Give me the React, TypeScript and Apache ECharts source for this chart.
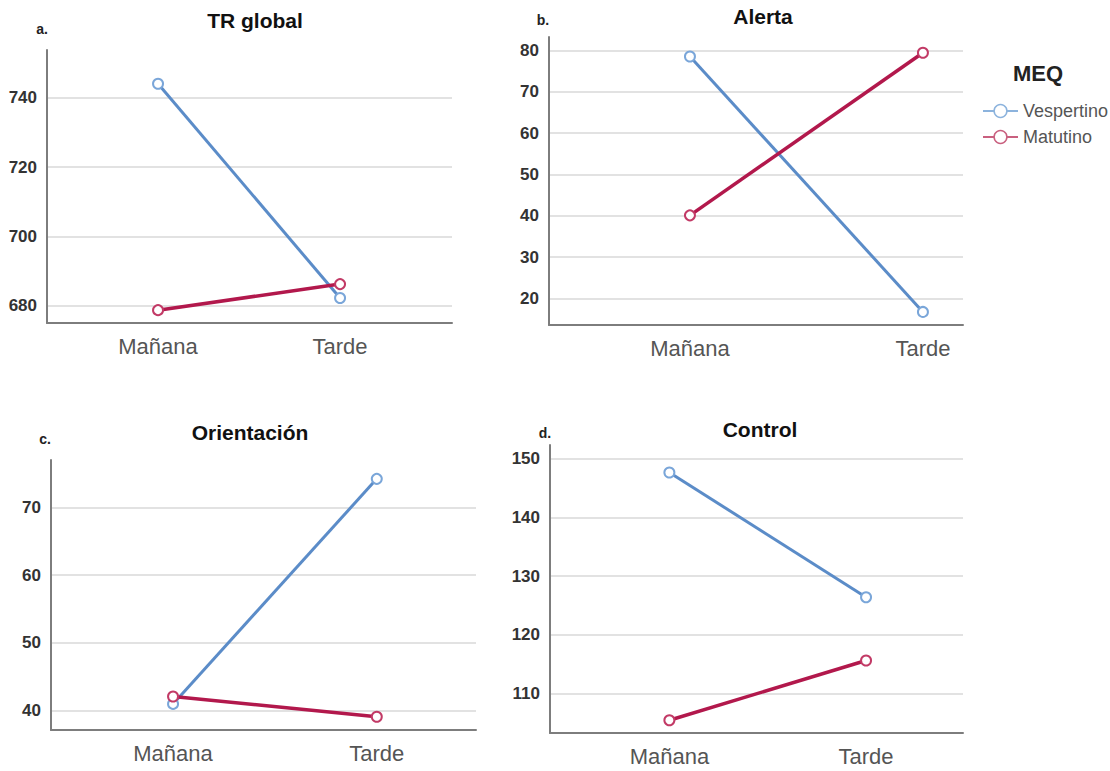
import React, { useEffect, useRef } from "react";
import * as echarts from "echarts";

const categories = ["Mañana", "Tarde"];
const seriesNames = ["Vespertino", "Matutino"];

const trVesp = [744.0, 682.3];
const trMat = [678.8, 686.3];
const alertaVesp = [78.6, 16.7];
const alertaMat = [40.1, 79.5];
const orientVesp = [41.0, 74.2];
const orientMat = [42.1, 39.1];
const controlVesp = [147.7, 126.4];
const controlMat = [105.4, 115.6];

const panelTitles = ["TR global", "Alerta", "Orientación", "Control"];
const panelLetters = ["a.", "b.", "c.", "d."];

const FONT = "'Liberation Sans', Arial, sans-serif";
const BLUE = "#5b8cc8";
const RED = "#b2184c";

const panels = [
  { vesp: trVesp, mat: trMat, grid: { left: 47, top: 50, width: 405, height: 273 }, x: [-0.61, 1.615], y: [675.1, 753.7], title: [255, 20], letter: [42, 29] },
  { vesp: alertaVesp, mat: alertaMat, grid: { left: 549, top: 37, width: 414, height: 288 }, x: [-0.605, 1.172], y: [13.53, 83.32], title: [763, 16], letter: [543, 20] },
  { vesp: orientVesp, mat: orientMat, grid: { left: 51, top: 460, width: 425, height: 270 }, x: [-0.599, 1.487], y: [37.15, 76.98], title: [250, 432], letter: [45, 439] },
  { vesp: controlVesp, mat: controlMat, grid: { left: 550, top: 445, width: 413, height: 288 }, x: [-0.607, 1.493], y: [103.22, 152.39], title: [760, 429], letter: [545, 433] },
];

export default function App() {
  const ref = useRef<HTMLDivElement>(null);
  useEffect(() => {
    if (!ref.current) return;
    const chart = echarts.init(ref.current, null, { renderer: "svg" });
    const grids: any[] = [];
    const xAxes: any[] = [];
    const yAxes: any[] = [];
    const series: any[] = [];
    const graphics: any[] = [];
    panels.forEach((p, i) => {
      grids.push({ ...p.grid, containLabel: false });
      xAxes.push({
        type: "value",
        gridIndex: i,
        min: p.x[0],
        max: p.x[1],
        axisLine: { show: true, onZero: false, lineStyle: { color: "#7d7d7d", width: 2 } },
        axisTick: { show: false },
        splitLine: { show: false },
        axisLabel: {
          customValues: [0, 1],
          formatter: (v: number) => categories[Math.round(v)] ?? "",
          fontFamily: FONT,
          fontSize: 22,
          color: "#555",
          margin: 12,
        },
      });
      yAxes.push({
        type: "value",
        gridIndex: i,
        min: p.y[0],
        max: p.y[1],
        axisLine: { show: true, onZero: false, lineStyle: { color: "#7d7d7d", width: 2 } },
        axisTick: { show: false },
        splitLine: { show: true, showMinLine: false, showMaxLine: false, lineStyle: { color: "#d9d9d9", width: 1.5 } },
        axisLabel: {
          showMinLabel: false,
          showMaxLabel: false,
          fontFamily: FONT,
          fontSize: 17,
          fontWeight: "bold",
          color: "#333",
          margin: 10,
        },
      });
      const mk = (name: string, vals: number[], color: string, border: string, w: number) => ({
        name,
        type: "line",
        xAxisIndex: i,
        yAxisIndex: i,
        data: vals.map((v, k) => [k, v]),
        symbol: "circle",
        symbolSize: 10,
        lineStyle: { color, width: w },
        itemStyle: { color: "#fff", borderColor: border, borderWidth: 2 },
        emphasis: { disabled: true },
        z: name === "Matutino" ? 3 : 2,
      });
      series.push(mk(seriesNames[0], p.vesp, BLUE, "#7aa6d9", 3));
      series.push(mk(seriesNames[1], p.mat, RED, "#c23a66", 3.5));
      graphics.push({
        type: "text",
        x: p.title[0],
        y: p.title[1],
        style: { text: panelTitles[i], font: `bold 21px ${FONT}`, fill: "#111", textAlign: "center", textVerticalAlign: "middle" },
      });
      graphics.push({
        type: "text",
        x: p.letter[0],
        y: p.letter[1],
        style: { text: panelLetters[i], font: `bold 14px ${FONT}`, fill: "#222", textAlign: "center", textVerticalAlign: "middle" },
      });
    });
    graphics.push({
      type: "text",
      x: 1038,
      y: 73,
      style: { text: "MEQ", font: `bold 22px ${FONT}`, fill: "#222", textAlign: "center", textVerticalAlign: "middle" },
    });
    chart.setOption({
      animation: false,
      backgroundColor: "#fff",
      grid: grids,
      xAxis: xAxes,
      yAxis: yAxes,
      series,
      graphic: graphics,
      legend: {
        orient: "vertical",
        left: 977,
        top: 97,
        itemWidth: 35,
        itemHeight: 16,
        itemGap: 8,
        selectedMode: false,
        textStyle: { fontFamily: FONT, fontSize: 18, color: "#555", lineHeight: 18 },
        data: [
          { name: "Vespertino", itemStyle: { color: "#fff", borderColor: "#8cb3dd", borderWidth: 1.5 }, lineStyle: { color: "#8cb3dd", width: 2 } },
          { name: "Matutino", itemStyle: { color: "#fff", borderColor: "#c9607f", borderWidth: 1.5 }, lineStyle: { color: "#c9607f", width: 2 } },
        ],
      },
    });
    return () => chart.dispose();
  }, []);
  return (
    <div
      ref={ref}
      style={{ position: "fixed", left: 0, top: 0, width: 1110, height: 771, background: "#fff" }}
    />
  );
}
